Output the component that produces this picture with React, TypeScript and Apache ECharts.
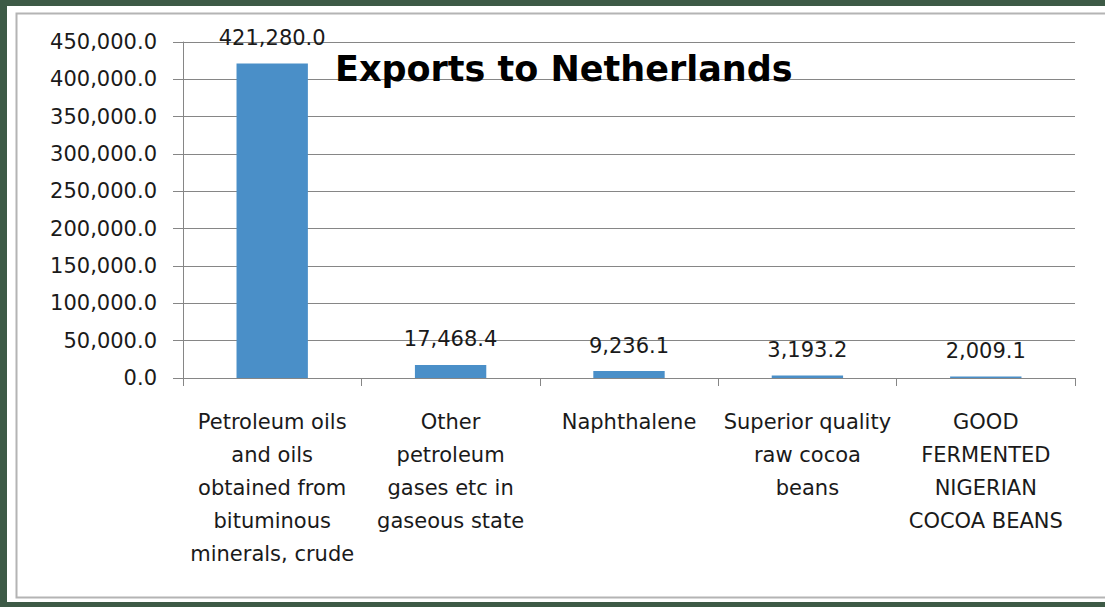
import React, { useEffect, useRef } from "react";
import * as echarts from "echarts";

const titleText = "Exports to Netherlands";
const categories = [
  "Petroleum oils\nand oils\nobtained from\nbituminous\nminerals, crude",
  "Other\npetroleum\ngases etc in\ngaseous state",
  "Naphthalene",
  "Superior quality\nraw cocoa\nbeans",
  "GOOD\nFERMENTED\nNIGERIAN\nCOCOA BEANS",
];
const values = [421280.0, 17468.4, 9236.1, 3193.2, 2009.1];
const yMin = 0;
const yMax = 450000;
const yInterval = 50000;

const FONT = "DejaVu Sans";
const fmt = (v: number) =>
  v.toLocaleString("en-US", { minimumFractionDigits: 1, maximumFractionDigits: 1 });

export default function App() {
  const ref = useRef<HTMLDivElement>(null);
  useEffect(() => {
    document.body.style.margin = "0";
    if (!ref.current) return;
    const chart = echarts.init(ref.current, null, { renderer: "svg" });
    chart.setOption({
      animation: false,
      backgroundColor: "#3d5a46",
      graphic: {
        elements: [
          {
            type: "rect",
            z: -10,
            shape: { x: 7, y: 6, width: 1100, height: 596 },
            style: { fill: "#ffffff" },
          },
          {
            type: "rect",
            z: -9,
            shape: { x: 16.5, y: 13.5, width: 1100, height: 584 },
            style: { fill: "#ffffff", stroke: "#b4b4b4", lineWidth: 2 },
          },
        ],
      },
      title: {
        text: titleText,
        left: 330,
        top: 44,
        textStyle: {
          fontFamily: FONT,
          fontWeight: "bold",
          fontSize: 35,
          lineHeight: 40,
          color: "#000000",
        },
      },
      grid: { left: 183, right: 30, top: 42, bottom: 229 },
      xAxis: {
        type: "category",
        data: categories,
        axisLine: { show: true, lineStyle: { color: "#868686", width: 1 } },
        axisTick: { show: true, length: 8, lineStyle: { color: "#868686" } },
        axisLabel: {
          interval: 0,
          margin: 27,
          fontFamily: FONT,
          fontSize: 21,
          lineHeight: 33,
          color: "#1a1a1a",
          align: "center",
        },
      },
      yAxis: {
        type: "value",
        min: yMin,
        max: yMax,
        interval: yInterval,
        axisLine: { show: true, lineStyle: { color: "#868686", width: 1 } },
        axisTick: { show: true, length: 10, lineStyle: { color: "#868686" } },
        splitLine: { show: true, lineStyle: { color: "#868686", width: 1 } },
        axisLabel: {
          margin: 26,
          fontFamily: FONT,
          fontSize: 21,
          color: "#1a1a1a",
          formatter: (v: number) => fmt(v),
        },
      },
      series: [
        {
          type: "bar",
          data: values,
          barWidth: "40%",
          itemStyle: { color: "#4a8fc8" },
          label: {
            show: true,
            position: "top",
            distance: 15,
            fontFamily: FONT,
            fontSize: 21,
            color: "#1a1a1a",
            formatter: (p: any) => fmt(p.value),
          },
        },
      ],
    });
    return () => chart.dispose();
  }, []);
  return <div ref={ref} style={{ width: 1105, height: 607 }} />;
}
